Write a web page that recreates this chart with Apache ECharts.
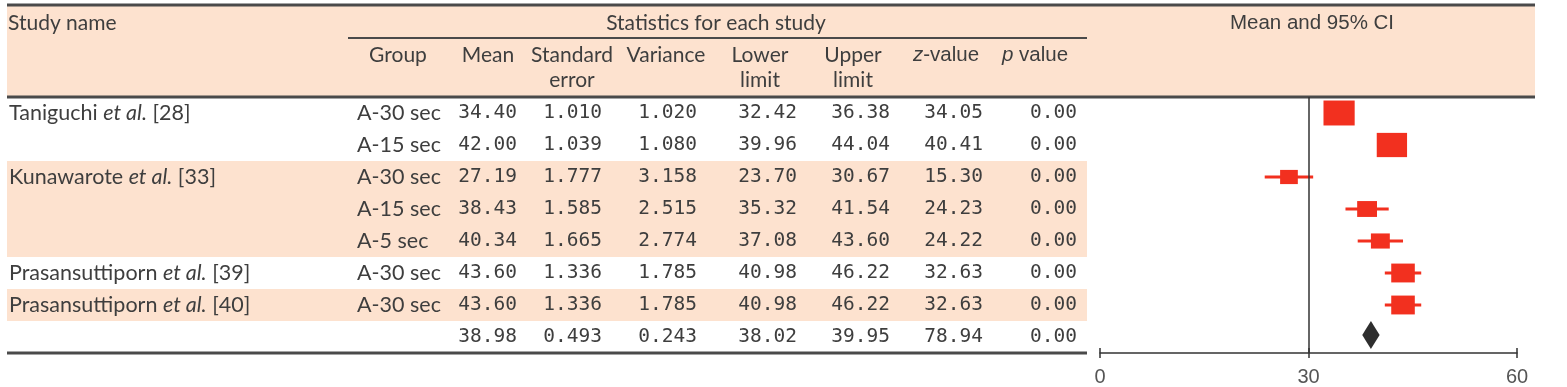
<!DOCTYPE html>
<html>
<head>
<meta charset="utf-8">
<script src="https://cdn.jsdelivr.net/npm/echarts@6/dist/echarts.min.js"></script>
<style>
  html, body { margin: 0; padding: 0; background: #fff; }
  #main { width: 1567px; height: 387px; }
</style>
</head>
<body>
<div id="main"></div>
<script>
// table rows, the last one is the pooled estimate
var studyNames = ['Taniguchi', '', 'Kunawarote', '', '', 'Prasansuttiporn', 'Prasansuttiporn', ''];
var studyRefs = ['28', '', '33', '', '', '39', '40', ''];
var groups = ['A-30 sec', 'A-15 sec', 'A-30 sec', 'A-15 sec', 'A-5 sec', 'A-30 sec', 'A-30 sec', ''];
var means = [34.40, 42.00, 27.19, 38.43, 40.34, 43.60, 43.60, 38.98];
var stdErrors = [1.010, 1.039, 1.777, 1.585, 1.665, 1.336, 1.336, 0.493];
var variances = [1.020, 1.080, 3.158, 2.515, 2.774, 1.785, 1.785, 0.243];
var lowerLimits = [32.42, 39.96, 23.70, 35.32, 37.08, 40.98, 40.98, 38.02];
var upperLimits = [36.38, 44.04, 30.67, 41.54, 43.60, 46.22, 46.22, 39.95];
var zValues = [34.05, 40.41, 15.30, 24.23, 24.22, 32.63, 32.63, 78.94];
var pValues = [0.00, 0.00, 0.00, 0.00, 0.00, 0.00, 0.00, 0.00];

// header texts
var topHeads = ['Study name', 'Statistics for each study', 'Mean and 95% CI'];
var colHeads = ['Group', 'Mean', 'Standard\nerror', 'Variance', 'Lower\nlimit', 'Upper\nlimit', '{i|z}-value', '{i|p} value'];
var xTicks = [0, 30, 60];

var SANS = 'Lato, "Noto Sans", sans-serif';
var MONO = '"DejaVu Sans Mono", monospace';
var NARROW = '"Liberation Sans", Arial, sans-serif';
var TXT = '#3e3e3e';
var PEACH = '#fde2cf';
var RULE = '#4a4a4a';
var RED = '#f2301f';

var chart = echarts.init(document.getElementById('main'));
var nRows = means.length;
var rowIdx = means.map(function (m, i) { return i; });

// every second study block gets a peach band (pooled row excluded)
var shade = [];
var block = -1;
studyNames.forEach(function (n, i) {
  if (n) block++;
  shade.push(i < nRows - 1 && block % 2 === 1);
});

// numeric columns: values, decimals, right edge in px
var numCols = [
  [means, 2, 517], [stdErrors, 3, 602], [variances, 3, 697], [lowerLimits, 2, 797],
  [upperLimits, 2, 890], [zValues, 2, 983], [pValues, 2, 1077]
];
var headX = [398, 488, 572, 666, 760, 853, 946, 1035];

function txt(x, y, text, align, family, size, extra) {
  var st = {
    text: text, fill: TXT, fontFamily: family, fontSize: size,
    align: align, textAlign: align, verticalAlign: 'middle', textVerticalAlign: 'middle'
  };
  if (extra) for (var k in extra) st[k] = extra[k];
  return { type: 'text', x: x, y: y, style: st };
}

function renderTable(params, api) {
  var i = api.value(1);
  var y = api.coord([0, i])[1];
  var h = api.size([0, 1])[1];
  var kids = [];
  if (shade[i]) {
    kids.push({ type: 'rect', shape: { x: 7, y: y - h / 2, width: 1080, height: h }, style: { fill: PEACH } });
  }
  if (studyNames[i]) {
    kids.push(txt(9, y, '{n|' + studyNames[i] + ' }{i|et al.}{n| [' + studyRefs[i] + ']}', 'left', SANS, 21.5, {
      rich: {
        n: { fontFamily: SANS, fontSize: 21.5, fill: TXT },
        i: { fontFamily: SANS, fontSize: 21.5, fill: TXT, fontStyle: 'italic' }
      }
    }));
  }
  if (groups[i]) kids.push(txt(357, y, groups[i], 'left', SANS, 21.5));
  numCols.forEach(function (c) {
    kids.push(txt(c[2], y, c[0][i].toFixed(c[1]), 'right', MONO, 19.5));
  });
  return { type: 'group', children: kids };
}

function renderForest(params, api) {
  var i = api.value(1);
  var c = api.coord([api.value(0), i]);
  var lo = api.coord([api.value(2), i]);
  var hi = api.coord([api.value(3), i]);
  if (i === nRows - 1) {
    return {
      type: 'polygon',
      shape: { points: [[lo[0] - 2, c[1] - 2], [c[0], c[1] - 16], [hi[0] + 2, c[1] - 2], [c[0], c[1] + 12]] },
      style: { fill: '#2e2e2e' }
    };
  }
  var w = 31.5 / Math.sqrt(api.value(4));
  var h = 0.8 * w;
  return {
    type: 'group',
    children: [
      { type: 'line', shape: { x1: lo[0], y1: c[1], x2: hi[0], y2: c[1] }, style: { stroke: RED, lineWidth: 3 } },
      { type: 'rect', shape: { x: c[0] - w / 2, y: c[1] - h / 2, width: w, height: h }, style: { fill: RED } }
    ]
  };
}

// header graphics
var headEls = [
  { type: 'rect', shape: { x: 7, y: 5, width: 1528, height: 92 }, style: { fill: PEACH }, z: 0 },
  { type: 'line', shape: { x1: 7, y1: 5, x2: 1535, y2: 5 }, style: { stroke: RULE, lineWidth: 3 }, z: 1 },
  { type: 'line', shape: { x1: 7, y1: 97, x2: 1535, y2: 97 }, style: { stroke: RULE, lineWidth: 3 }, z: 1 },
  { type: 'line', shape: { x1: 348, y1: 38, x2: 1087, y2: 38 }, style: { stroke: RULE, lineWidth: 2 }, z: 1 },
  { type: 'line', shape: { x1: 7, y1: 353, x2: 1087, y2: 353 }, style: { stroke: RULE, lineWidth: 3 }, z: 1 }
];
var t0 = txt(8, 23, topHeads[0], 'left', SANS, 21);
var t1 = txt(716, 23, topHeads[1], 'center', SANS, 21);
var t2 = txt(1312, 23, topHeads[2], 'center', NARROW, 20.5);
[t0, t1, t2].forEach(function (e) { e.z = 2; headEls.push(e); });
colHeads.forEach(function (h, k) {
  var narrow = k >= 6;
  h.split('\n').forEach(function (line, j) {
    var fam = narrow ? NARROW : SANS;
    var size = narrow ? 20.5 : 21;
    var e = txt(headX[k], 55 + j * 25, line, 'center', fam, size, {
      rich: {
        i: { fontFamily: fam, fontSize: size, fill: TXT, fontStyle: 'italic' }
      }
    });
    e.z = 2;
    headEls.push(e);
  });
});

var option = {
  animation: false,
  backgroundColor: '#fff',
  graphic: { elements: headEls },
  grid: { left: 1100, right: 50, top: 97, bottom: 34, containLabel: false },
  xAxis: [{
    type: 'value', min: xTicks[0], max: xTicks[xTicks.length - 1], interval: 30,
    splitLine: { show: false },
    axisLine: { show: true, lineStyle: { color: '#333', width: 1.5 } },
    axisTick: { show: true, length: 5, lineStyle: { color: '#333', width: 1.5 } },
    axisLabel: { color: '#555', fontFamily: NARROW, fontSize: 20, margin: 14 }
  }, {
    type: 'value', position: 'bottom', min: xTicks[0], max: xTicks[xTicks.length - 1], interval: 30,
    splitLine: { show: false },
    axisLine: { show: false },
    axisTick: { show: true, inside: true, length: 5, lineStyle: { color: '#333', width: 1.5 } },
    axisLabel: { show: false }
  }],
  yAxis: {
    type: 'category', inverse: true, show: false,
    data: rowIdx.map(String)
  },
  series: [{
    type: 'custom',
    renderItem: renderTable,
    data: rowIdx.map(function (i) { return [0, i]; }),
    silent: true,
    z: 1
  }, {
    type: 'custom',
    renderItem: renderForest,
    data: rowIdx.map(function (i) { return [means[i], i, lowerLimits[i], upperLimits[i], variances[i]]; }),
    silent: true,
    z: 3,
    markLine: {
      silent: true, symbol: ['none', 'none'], label: { show: false },
      lineStyle: { color: '#333', width: 1.5, type: 'solid' },
      data: [{ xAxis: 30 }]
    }
  }]
};
chart.setOption(option);
</script>
</body>
</html>
